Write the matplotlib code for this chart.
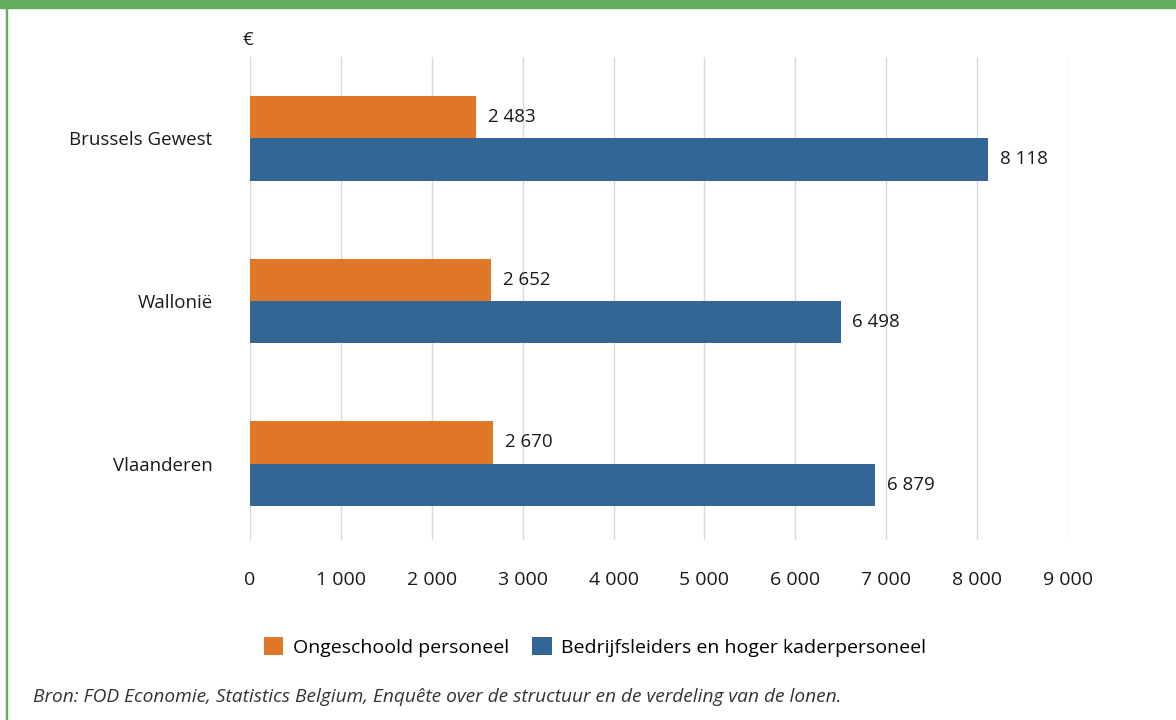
import numpy as np
import matplotlib.pyplot as plt
from matplotlib.patches import Rectangle

plt.rcParams['font.family'] = ['Open Sans', 'DejaVu Sans']

regions = ['Vlaanderen', 'Wallonië', 'Brussels Gewest']
ongeschoold = [2670, 2652, 2483]
kader = [6879, 6498, 8118]
series_names = ['Ongeschoold personeel', 'Bedrijfsleiders en hoger kaderpersoneel']
xticks = [0, 1000, 2000, 3000, 4000, 5000, 6000, 7000, 8000, 9000]

orange = '#e07728'
blue = '#336695'


def fmt(v):
    return f'{v:,}'.replace(',', ' ')


fig = plt.figure(figsize=(11.76, 7.2), dpi=100)
ax = fig.add_axes([0.2126, 0.25, 0.6956, 0.6708])

y = np.arange(len(regions))
h = 0.26
ax.barh(y + h / 2, ongeschoold, height=h, color=orange, label=series_names[0], zorder=3)
ax.barh(y - h / 2, kader, height=h, color=blue, label=series_names[1], zorder=3)

for yi, v in zip(y, ongeschoold):
    ax.text(v + 130, yi + h / 2, fmt(v), va='center', ha='left', fontsize=13.5, color='#1a1a1a')
for yi, v in zip(y, kader):
    ax.text(v + 130, yi - h / 2, fmt(v), va='center', ha='left', fontsize=13.5, color='#1a1a1a')

ax.set_xlim(0, 9000)
ax.set_ylim(-0.47, 2.5)
ax.set_xticks(xticks)
ax.set_xticklabels([fmt(t) for t in xticks], fontsize=14, color='#1a1a1a')
ax.set_yticks(y)
ax.set_yticklabels(regions, fontsize=13.5, color='#1a1a1a')
ax.tick_params(axis='both', length=0)
ax.tick_params(axis='x', pad=22)
ax.tick_params(axis='y', pad=27)
ax.grid(axis='x', color='#d9d9d9', linewidth=1, zorder=0)
for s in ax.spines.values():
    s.set_visible(False)

fig.text(248 / 1176, 1 - 40 / 720, '€', fontsize=13.5, ha='center', va='center', color='#1a1a1a')

ax.legend(loc='center', bbox_to_anchor=(595 / 1176, 1 - 647 / 720), bbox_transform=fig.transFigure,
          ncol=2, frameon=False, fontsize=14, handlelength=1.0, handleheight=1.0,
          columnspacing=1.2, handletextpad=0.5)

fig.text(33 / 1176, 1 - 697 / 720,
         'Bron: FOD Economie, Statistics Belgium, Enquête over de structuur en de verdeling van de lonen.',
         fontsize=13.8, style='italic', color='#333333', ha='left', va='center')

# green frame: top band and thin left edge
fig.patches.append(Rectangle((0, 1 - 8 / 720), 1, 8 / 720, transform=fig.transFigure,
                             color='#63ad5c', zorder=10))
fig.patches.append(Rectangle((6 / 1176, 0), 1.2 / 1176, 1, transform=fig.transFigure,
                             color='#63ad5c', zorder=10))

fig.savefig('out.png', dpi=100)
